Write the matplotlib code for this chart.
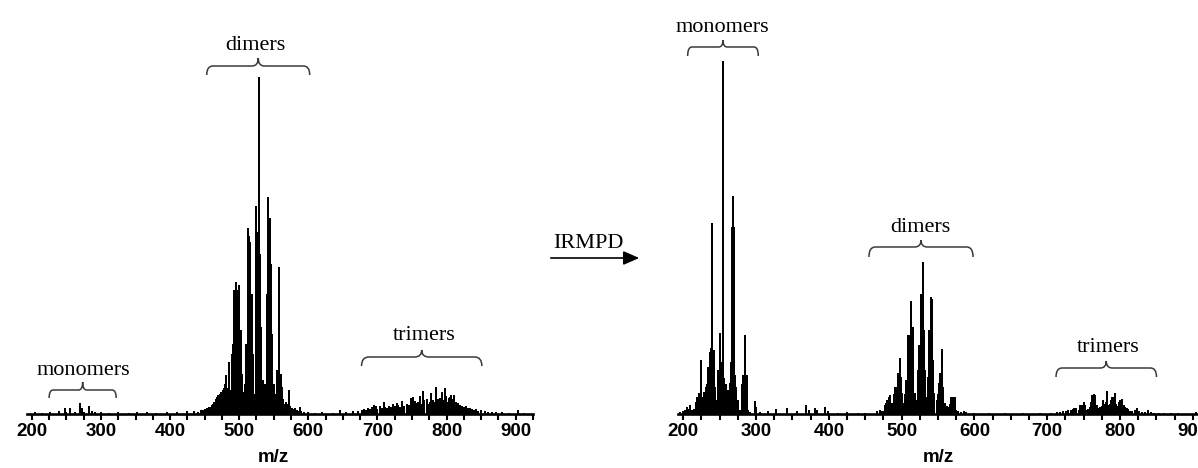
import numpy as np
import matplotlib
matplotlib.use("Agg")
import matplotlib.pyplot as plt
import matplotlib.transforms as mtransforms
from matplotlib import font_manager
from matplotlib.path import Path
from matplotlib.patches import PathPatch, FancyArrowPatch
from matplotlib.ticker import MultipleLocator

# ---- spectrum before IRMPD (m/z, intensity in arbitrary units) ----
left_mono_mz = [205, 214, 226, 240, 248, 250, 255, 262, 269, 272, 276, 283, 287, 292,
                300, 312, 325, 340, 352, 366, 380, 395, 410, 425, 434, 440, 445]
left_mono_int = [2, 1, 2, 3, 6, 2, 6, 2, 11, 6, 2, 8, 3, 2,
                 2, 1, 2, 1, 2, 2, 1, 2, 2, 3, 3, 2, 4]

left_dimer_mz = [448, 450, 452, 454, 456, 458, 460, 462, 464, 466, 468, 470,
                 472, 474, 476, 478, 480, 481, 482, 484, 485, 486, 488, 490,
                 491, 492, 494, 496, 498, 500, 502, 504, 506, 508, 510, 512,
                 514, 516, 518, 520, 522, 524, 526, 528, 529, 530, 532, 534,
                 536, 538, 540, 541, 542, 544, 546, 548, 550, 552, 554, 555,
                 557, 558, 560, 562, 564, 566, 568, 570, 572, 574, 576, 578,
                 580, 582, 584, 586, 588, 590, 594, 600, 610, 620, 635, 646,
                 655, 665, 672, 678]
left_dimer_int = [4, 5, 4, 6, 7, 7, 9, 10, 12, 15, 17, 19,
                  20, 22, 24, 26, 30, 39, 26, 24, 52, 24, 12, 60,
                  70, 124, 124, 132, 124, 129, 84, 40, 22, 30, 70, 186,
                  178, 172, 120, 60, 20, 208, 182, 182, 337, 160, 87, 34,
                  20, 30, 120, 217, 196, 196, 150, 80, 30, 20, 44, 40,
                  147, 70, 40, 27, 15, 10, 12, 10, 24, 8, 6, 5,
                  6, 4, 4, 3, 7, 3, 2, 2, 1, 2, 1, 4,
                  2, 3, 3, 4]

left_trimer_mz = [680, 683, 686, 689, 692, 695, 698, 700, 703, 706, 709, 711,
                  714, 717, 720, 722, 725, 728, 730, 733, 736, 739, 742, 745,
                  748, 750, 752, 754, 756, 758, 761, 763, 766, 768, 771, 773,
                  776, 778, 780, 783, 785, 787, 789, 791, 793, 795, 797, 799,
                  801, 803, 805, 807, 809, 811, 813, 815, 817, 819, 822, 825,
                  828, 831, 834, 837, 840, 843, 846, 850, 855, 860, 866, 872,
                  880, 890, 903, 912]
left_trimer_int = [5, 4, 6, 5, 7, 9, 8, 5, 8, 6, 12, 7,
                   6, 8, 7, 10, 8, 11, 9, 7, 13, 8, 10, 9,
                   16, 12, 17, 13, 11, 12, 18, 10, 23, 14, 15, 10,
                   12, 21, 14, 12, 27, 15, 12, 16, 22, 14, 26, 18,
                   12, 16, 17, 19, 15, 19, 12, 10, 11, 9, 8, 7,
                   8, 6, 6, 5, 4, 5, 3, 4, 3, 2, 2, 2,
                   2, 1, 4, 1]

# ---- spectrum after IRMPD ----
right_mono_mz = [196, 200, 203, 205, 207, 209, 212, 215, 217, 219, 221, 223,
                 225, 227, 229, 231, 232, 234, 236, 238, 239, 240, 242, 244,
                 246, 248, 250, 251, 253, 255, 256, 258, 260, 262, 264, 266,
                 267, 268, 269, 271, 273, 275, 278, 281, 282, 284, 285, 286,
                 288, 289, 292, 298, 300, 305, 317, 328, 342, 356, 369, 372,
                 381, 383, 395, 399, 412, 425, 440, 450, 466, 470, 473]
right_mono_int = [2, 3, 4, 7, 5, 9, 4, 5, 12, 17, 21, 18,
                  54, 17, 22, 27, 30, 47, 62, 66, 191, 66, 64, 27,
                  14, 44, 54, 81, 52, 353, 36, 30, 14, 24, 31, 52,
                  187, 218, 187, 39, 27, 14, 4, 30, 39, 39, 79, 39,
                  39, 4, 2, 13, 7, 2, 3, 5, 6, 3, 9, 4,
                  6, 4, 7, 3, 1, 2, 1, 1, 3, 4, 3]

right_dimer_mz = [475, 477, 479, 480, 482, 484, 486, 488, 490, 491, 493, 495,
                  497, 499, 501, 503, 505, 506, 508, 510, 511, 513, 514, 515,
                  516, 518, 520, 522, 524, 526, 527, 528, 529, 530, 532, 534,
                  536, 538, 540, 541, 543, 545, 548, 550, 551, 553, 555, 557,
                  560, 562, 564, 566, 568, 570, 571, 573, 575, 578, 582, 586,
                  589, 600, 620, 642, 667, 690, 705]
right_dimer_int = [3, 9, 11, 14, 17, 19, 11, 11, 20, 27, 27, 41,
                   56, 37, 21, 11, 20, 34, 79, 79, 60, 113, 87, 87,
                   51, 21, 14, 44, 69, 117, 120, 100, 152, 84, 44, 17,
                   37, 84, 117, 115, 54, 21, 14, 20, 31, 41, 65, 27,
                   11, 8, 7, 10, 17, 17, 12, 17, 4, 3, 2, 3,
                   2, 1, 1, 1, 1, 1, 1]

right_trimer_mz = [713, 717, 722, 726, 729, 732, 735, 737, 740, 743, 745, 748,
                   750, 752, 754, 756, 758, 760, 761, 763, 764, 766, 768, 770,
                   772, 775, 777, 779, 781, 782, 784, 786, 788, 789, 791, 793,
                   795, 797, 799, 800, 802, 803, 805, 807, 809, 811, 814, 817,
                   820, 823, 826, 830, 834, 838, 842, 846, 853, 860, 870, 880,
                   904]
right_trimer_int = [2, 2, 3, 3, 4, 4, 5, 6, 6, 4, 9, 9,
                    12, 9, 4, 5, 7, 12, 19, 17, 20, 19, 9, 6,
                    7, 8, 14, 10, 12, 23, 9, 10, 14, 17, 17, 21,
                    10, 8, 12, 14, 9, 15, 9, 7, 6, 5, 3, 3,
                    4, 6, 3, 2, 2, 4, 2, 1, 1, 1, 1, 1,
                    2]

# annotation labels: (text, brace m/z start, brace m/z end, text m/z)
left_labels = [("monomers", 225, 322, 274), ("dimers", 453, 602, 524), ("trimers", 677, 851, 767)]
right_labels = [("monomers", 206, 303, 253), ("dimers", 455, 598, 526), ("trimers", 712, 850, 783)]

tick_values = [200, 300, 400, 500, 600, 700, 800, 900]

installed = {f.name for f in font_manager.fontManager.ttflist}
if "Liberation Sans Narrow" in installed:
    tick_font, tick_size = "Liberation Sans Narrow", 15
else:
    tick_font, tick_size = "Liberation Sans", 13.5
serif = "Liberation Serif"

plt.rcParams["font.family"] = tick_font
plt.rcParams["font.weight"] = "bold"

W, H = 1198, 468
fig = plt.figure(figsize=(W / 100, H / 100), dpi=100)


def px_axes(left, right, base, height):
    return fig.add_axes([left / W, (H - base) / H, (right - left) / W, height / H])


ax1 = px_axes(27, 533, 414, 370.7)
ax2 = px_axes(678.2, 1211.1, 414, 388.3)


def style(ax):
    ax.set_xlim(193, 925)
    ax.set_ylim(0, 110)
    for s in ("top", "left", "right"):
        ax.spines[s].set_visible(False)
    ax.spines["bottom"].set_linewidth(1.9)
    ax.set_xticks(tick_values)
    ax.set_xticklabels([str(v) for v in tick_values])
    ax.xaxis.set_minor_locator(MultipleLocator(25))
    ax.tick_params(axis="x", which="both", direction="out", length=4, width=1.5,
                   pad=2.5, labelsize=tick_size)
    ax.set_yticks([])
    ax.patch.set_visible(False)


def brace(ax, x0, x1, y_end, y_mid, y_tip):
    xm = (x0 + x1) / 2
    r = 0.06 * (x1 - x0)
    verts = [(x0, y_end), (x0, y_mid), (x0 + r, y_mid), (xm - r, y_mid),
             (xm, y_mid), (xm, y_tip), (xm, y_mid), (xm + r, y_mid),
             (x1 - r, y_mid), (x1, y_mid), (x1, y_end)]
    codes = [Path.MOVETO, Path.CURVE3, Path.CURVE3, Path.LINETO,
             Path.CURVE3, Path.CURVE3, Path.CURVE3, Path.CURVE3,
             Path.LINETO, Path.CURVE3, Path.CURVE3]
    ax.add_patch(PathPatch(Path(verts, codes), fill=False, lw=1.1,
                           edgecolor="#3a3a3a", clip_on=False))


def draw_panel(ax, mz_lists, int_lists, labels, px_per_unit, brace_px, text_px):
    mz = np.concatenate([np.asarray(m, float) for m in mz_lists])
    inten = np.concatenate([np.asarray(i, float) for i in int_lists])
    rel = 100 * inten / inten.max()
    style(ax)
    ax.vlines(mz, 0, rel, color="black", linewidth=1.3, antialiased=False)
    for (txt, x0, x1, xt), (ye, ym, yt), yb in zip(labels, brace_px, text_px):
        brace(ax, x0, x1, (414 - ye) / px_per_unit, (414 - ym) / px_per_unit,
              (414 - yt) / px_per_unit)
        ax.text(xt, (414 - yb) / px_per_unit, txt, ha="center", va="baseline",
                family=serif, weight="normal", fontsize=16)
    trans = mtransforms.blended_transform_factory(ax.transData, fig.transFigure)
    ax.text(550, 1 - 458 / H, "m/z", transform=trans, ha="center", va="center",
            fontsize=tick_size)


draw_panel(ax1, [left_mono_mz, left_dimer_mz, left_trimer_mz],
           [left_mono_int, left_dimer_int, left_trimer_int], left_labels, 3.37,
           [(398, 390, 382), (75, 66, 58), (366, 357, 350)], [375, 50, 340])
draw_panel(ax2, [right_mono_mz, right_dimer_mz, right_trimer_mz],
           [right_mono_int, right_dimer_int, right_trimer_int], right_labels, 3.53,
           [(56, 47, 40), (257, 247, 240), (377, 368, 361)], [32, 232, 352])

fig.text(588 / W, 1 - 248 / H, "IRMPD", ha="center", va="baseline",
         family=serif, weight="normal", fontsize=16)
fig.add_artist(FancyArrowPatch((548 / W, 1 - 258 / H), (642 / W, 1 - 258 / H),
                               transform=fig.transFigure,
                               arrowstyle="-|>,head_length=0.8,head_width=0.35",
                               mutation_scale=12, lw=1.2, color="black"))

fig.savefig("out.png", dpi=100)
